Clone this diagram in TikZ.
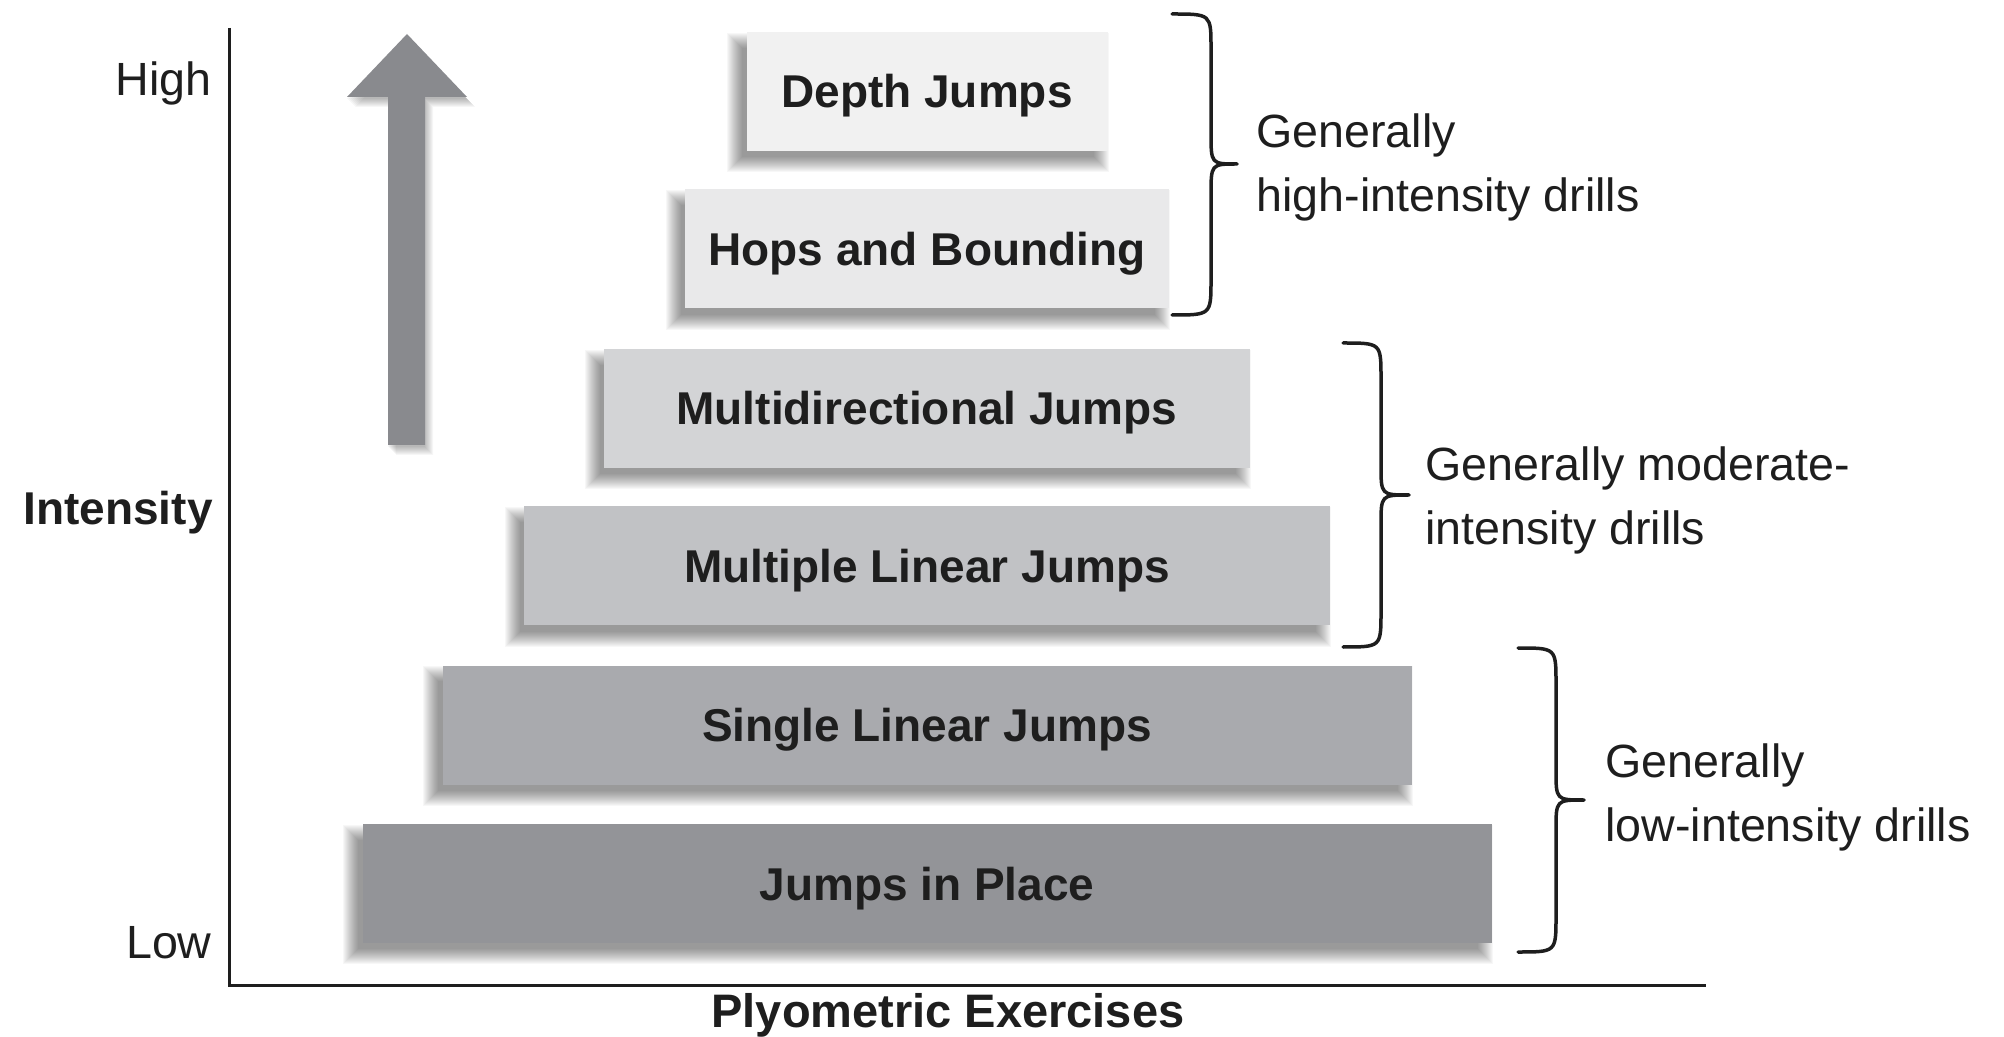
\documentclass[tikz,border=0pt]{standalone}
\usepackage{fontspec}
\setmainfont{Liberation Sans}
\usetikzlibrary{calc}
\pgfdeclarelayer{background}
\pgfsetlayers{background,main}
\definecolor{ink}{HTML}{1E1E1E}
\definecolor{cA}{HTML}{F1F1F1}
\definecolor{cB}{HTML}{E9E9EA}
\definecolor{cC}{HTML}{D3D4D6}
\definecolor{cD}{HTML}{C1C2C5}
\definecolor{cE}{HTML}{A9AAAE}
\definecolor{cF}{HTML}{939498}
\definecolor{arrowgray}{HTML}{898A8E}
\newcommand{\boxshadow}[1]{%
  \begin{pgfonlayer}{background}
    \foreach \k in {0,...,15}{%
      \fill[black,opacity=0.032] ($(#1.north west)+(-4-\k,16-\k)$) rectangle ($(#1.south east)+(-14+\k,6+\k)$);
    }
  \end{pgfonlayer}}
\begin{document}
\begin{tikzpicture}[x=0.5pt,y=-0.5pt,
  stepbox/.style={fill=#1, minimum height=59.5pt, inner sep=0pt,
    font=\fontsize{23}{28}\selectfont\bfseries, text=ink,
    text height=16.5pt, text depth=0pt},
  axislabel/.style={font=\fontsize{23.3}{28}\selectfont, text=ink, inner sep=0pt},
  axistitle/.style={font=\fontsize{23}{28}\selectfont\bfseries, text=ink, inner sep=0pt},
  bracelabel/.style={font=\fontsize{23.3}{32}\selectfont, text=ink, inner sep=0pt, align=left, anchor=west},
  bracepath/.style={draw=ink, line width=1.75pt, line cap=round, line join=round},
  axisline/.style={draw=ink, line width=1.5pt}]
\useasboundingbox (0,0) rectangle (2004,1037);

% axes
\coordinate (ytop) at (229,28);
\coordinate (origin) at (229,985);
\coordinate (xend) at (1706,985);
\draw[axisline] (ytop) -- (origin) -- (xend);

\node[axislabel, anchor=base east] (high) at (212,96) {High};
\node[axislabel, anchor=base east] (low) at (212,958) {Low};
\node[axistitle, anchor=base east] (intensity) at (213,525) {Intensity};
\node[axistitle, anchor=base, font=\fontsize{23.5}{28}\selectfont\bfseries] (xtitle) at (948,1027) {Plyometric Exercises};

% big arrow with shadow
\foreach \k in {1,...,9}{%
  \fill[black,opacity=0.035,shift={(\k-1,\k+1)}] (388,445) -- (388,97) -- (347,97) -- (407,34) -- (467,97) -- (425,97) -- (425,445) -- cycle;
}
\fill[arrowgray] (388,445) -- (388,97) -- (347,97) -- (407,34) -- (467,97) -- (425,97) -- (425,445) -- cycle;

% steps
\node[stepbox=cA, minimum width=180.5pt] (b1) at (927,91.5) {Depth Jumps};
\node[stepbox=cB, minimum width=242pt] (b2) at (927,249) {Hops and Bounding};
\node[stepbox=cC, minimum width=323pt] (b3) at (927,408.5) {Multidirectional Jumps};
\node[stepbox=cD, minimum width=403pt] (b4) at (927,566) {Multiple Linear Jumps};
\node[stepbox=cE, minimum width=484.5pt] (b5) at (927,725) {Single Linear Jumps};
\node[stepbox=cF, minimum width=564.5pt] (b6) at (927,883.5) {Jumps in Place};
\boxshadow{b1}\boxshadow{b2}\boxshadow{b3}\boxshadow{b4}\boxshadow{b5}\boxshadow{b6}

% braces
% high
\draw[bracepath] (1172,14) .. controls (1211,14) .. (1211,48) -- (1211,133) .. controls (1211,164) .. (1237,164)
  .. controls (1211,164) .. (1211,195) -- (1211,280) .. controls (1211,315) .. (1172,315);
\node[bracelabel] (lhigh) at (1256,167) {Generally\\high-intensity drills};
% moderate
\draw[bracepath] (1343,343) .. controls (1381,343) .. (1381,378) -- (1381,465) .. controls (1381,495) .. (1409,495)
  .. controls (1381,495) .. (1381,525) -- (1381,612) .. controls (1381,647) .. (1343,647);
\node[bracelabel] (lmod) at (1425,500) {Generally moderate-\\intensity drills};
% low
\draw[bracepath] (1518,648) .. controls (1556,648) .. (1556,683) -- (1556,770) .. controls (1556,800) .. (1584,800)
  .. controls (1556,800) .. (1556,830) -- (1556,917) .. controls (1556,952) .. (1518,952);
\node[bracelabel] (llow) at (1605,797) {Generally\\low-intensity drills};
\end{tikzpicture}
\end{document}
